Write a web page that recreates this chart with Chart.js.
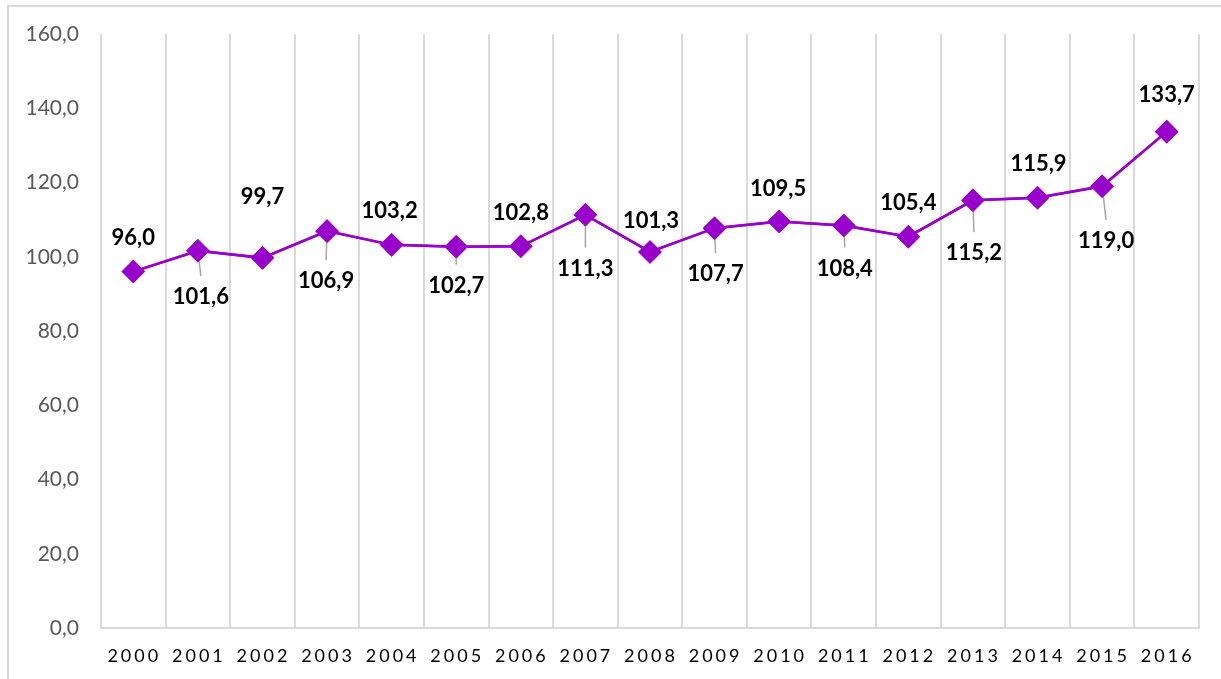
<!DOCTYPE html>
<html lang="pt">
<head>
    <meta charset="UTF-8">
    <title>Índice</title>
    <script src="https://cdn.jsdelivr.net/npm/chart.js"></script>
    <style>
        body {
            margin: 0;
            background: #ffffff;
            overflow: hidden;
        }
        .frame {
            position: absolute;
            left: 7px;
            top: 5px;
            width: 1230px;
            height: 700px;
            border: 2px solid #d9d9d9;
        }
        .chart-box {
            position: absolute;
            left: 0;
            top: 0;
            width: 1221px;
            height: 679px;
        }
    </style>
</head>
<body>
    <div class="frame"></div>
    <div class="chart-box">
        <canvas id="grafico"></canvas>
    </div>

    <script>
        const anos = ['2000', '2001', '2002', '2003', '2004', '2005', '2006', '2007', '2008',
            '2009', '2010', '2011', '2012', '2013', '2014', '2015', '2016'];
        const valores = [96.0, 101.6, 99.7, 106.9, 103.2, 102.7, 102.8, 111.3, 101.3,
            107.7, 109.5, 108.4, 105.4, 115.2, 115.9, 119.0, 133.7];
        const yTicks = [0, 20, 40, 60, 80, 100, 120, 140, 160];

        // deslocamento dos rótulos (px) em relação ao ponto
        const rotuloDy = [-34, 46, -61, 50, -34, 39, -33, 54, -31, 46, -33, 43, -34, 53, -34, 55, -37];
        const rotuloDx = [0, 3, 0, -1, -2, 0, 0, 0, 1, 1, -1, 1, 0, 1, 1, 4, 0];

        const virgula = v => v.toFixed(1).replace('.', ',');

        const rotulos = {
            id: 'rotulos',
            afterDatasetsDraw(chart) {
                const ctx = chart.ctx;
                const pts = chart.getDatasetMeta(0).data;
                ctx.save();
                // linhas de chamada
                ctx.strokeStyle = '#a6a6a6';
                ctx.lineWidth = 1.5;
                pts.forEach((p, i) => {
                    if (rotuloDy[i] > 0) {
                        ctx.beginPath();
                        ctx.moveTo(p.x, p.y);
                        ctx.lineTo(p.x + rotuloDx[i], p.y + rotuloDy[i] - 21);
                        ctx.stroke();
                    }
                });
                // redesenha os marcadores por cima das linhas
                chart.getDatasetMeta(0).controller.draw();
                ctx.font = 'bold 22px Lato';
                ctx.fillStyle = '#000000';
                ctx.textAlign = 'center';
                ctx.textBaseline = 'middle';
                pts.forEach((p, i) => {
                    ctx.fillText(virgula(valores[i]), p.x + rotuloDx[i], p.y + rotuloDy[i]);
                });
                // rótulos do eixo x com espaçamento
                const xs = chart.scales.x;
                ctx.font = '18px Lato';
                ctx.letterSpacing = '3px';
                anos.forEach((a, i) => {
                    ctx.fillText(a, xs.getPixelForTick(i) + 1, 656);
                });
                ctx.restore();
            }
        };

        new Chart(document.getElementById('grafico'), {
            type: 'line',
            data: {
                labels: anos,
                datasets: [{
                    data: valores,
                    borderColor: '#9900cc',
                    backgroundColor: '#9900cc',
                    borderWidth: 2.5,
                    pointStyle: 'rectRot',
                    pointRadius: 10,
                    pointHoverRadius: 10,
                    tension: 0
                }]
            },
            options: {
                responsive: true,
                maintainAspectRatio: false,
                animation: false,
                layout: { padding: { top: 34, right: 22, left: 0, bottom: 0 } },
                plugins: {
                    legend: { display: false },
                    tooltip: { enabled: false }
                },
                scales: {
                    x: {
                        offset: true,
                        afterFit: s => { s.height = 51; },
                        grid: {
                            offset: true,
                            color: '#d9d9d9',
                            lineWidth: 2,
                            drawTicks: false
                        },
                        border: { color: '#d9d9d9', width: 2 },
                        ticks: { display: false }
                    },
                    y: {
                        min: 0,
                        max: 160,
                        afterFit: s => { s.width = 101; },
                        afterBuildTicks: s => { s.ticks = yTicks.map(v => ({ value: v })); },
                        grid: { display: false },
                        border: { display: false },
                        ticks: {
                            padding: 14,
                            color: '#595959',
                            font: { family: 'Lato', size: 21 },
                            callback: v => virgula(v)
                        }
                    }
                }
            },
            plugins: [rotulos]
        });
    </script>
</body>
</html>
